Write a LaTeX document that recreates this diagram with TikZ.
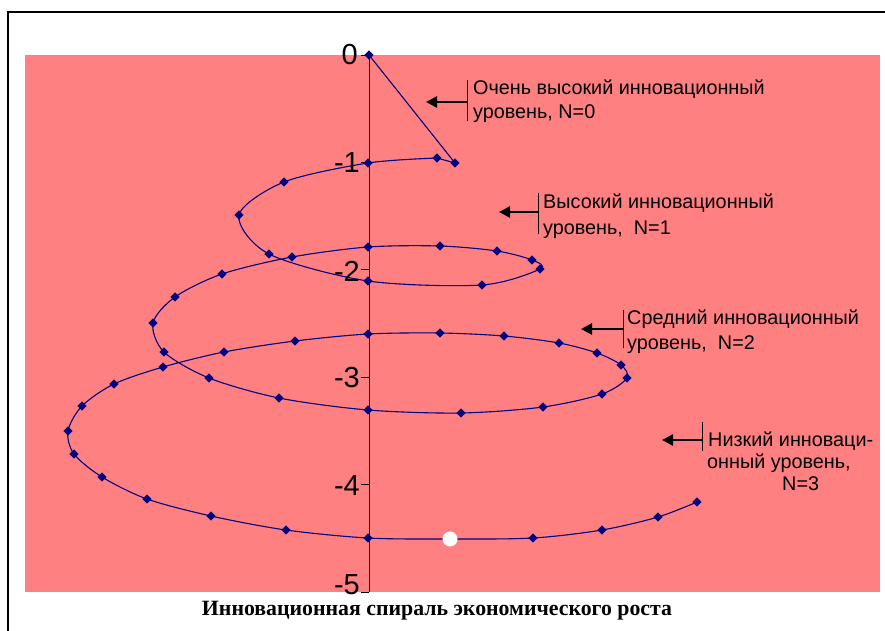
\documentclass[tikz,border=0pt]{standalone}
\usepackage{fontspec}
\setmainfont{Liberation Sans}
\newfontfamily\serifru{Liberation Serif}
\usetikzlibrary{arrows.meta,shapes.geometric}
\definecolor{plotpink}{RGB}{255,128,128}
\definecolor{navy}{RGB}{0,0,128}
\tikzset{
  marker/.style={diamond,fill=navy,inner sep=0pt,minimum width=9.5pt,minimum height=9.5pt},
  curve/.style={navy,line width=1.1pt},
  axislab/.style={anchor=east,inner sep=0pt,font=\fontsize{29}{29}\selectfont},
  lvl/.style={anchor=base west,inner sep=0pt,font=\fontsize{19.8}{19.8}\selectfont},
  bar/.style={black,line width=1pt},
  pointer/.style={black,line width=2.6pt,-{Triangle[length=11pt,width=11pt]}},
  tickline/.style={black,line width=1pt}
}
\begin{document}
\begin{tikzpicture}[x=1pt,y=-1pt]
\useasboundingbox (0,0) rectangle (885,630);
\clip (0,0) rectangle (885,630);
% outer frame
\draw[line width=1.3pt] (8,12) rectangle (900,650);
% plot area
\fill[plotpink] (25,55) rectangle (880,592);
% axis
\coordinate (axtop) at (369,55);
\coordinate (axbot) at (369,592);
\draw[tickline] (axtop) -- (axbot);
\foreach \v [count=\i from 0] in {0,1,2,3,4,5} {
  \coordinate (t\i) at (369,55+107.4*\i);
  \coordinate (tl\i) at (361,55+107.4*\i);
  \draw[tickline] (tl\i) -- (t\i);
}
\node[axislab] (y0) at (358,55) {0};
\node[axislab] (y1) at (360,163) {-1};
\node[axislab] (y2) at (360,271) {-2};
\node[axislab] (y3) at (360,378) {-3};
\node[axislab] (y4) at (360,486) {-4};
\node[axislab] (y5) at (360,585) {-5};
% spiral points
\foreach \x/\y [count=\i from 0] in {
369/55, 455/163, 437/158, 368/163, 284/182, 239/215, 269/254, 368/281,
482/285, 540/269, 532/260, 497/251, 440/246, 368/247, 292/257, 222/274,
175/297, 153/323, 164/352, 209/378, 279/398, 368/410, 461/413, 543/407,
602/394, 627/378, 621/365, 597/353, 559/343, 504/336, 440/333, 368/334,
295/341, 224/352, 163/367, 114/384, 82/406, 68/431, 74/454, 102/477,
147/499, 211/516, 286/530, 368/538, 450/539, 533/538, 602/530, 658/517,
697/502} {
  \coordinate (c\i) at (\x,\y);
}
\draw[curve] (c0) -- (c1) -- (c2);
\draw[curve] plot[smooth,tension=0.5] coordinates {
(c2) (c3) (c4) (c5) (c6) (c7) (c8) (c9) (c10) (c11) (c12) (c13) (c14)
(c15) (c16) (c17) (c18) (c19) (c20) (c21) (c22) (c23) (c24) (c25) (c26)
(c27) (c28) (c29) (c30) (c31) (c32) (c33) (c34) (c35) (c36) (c37) (c38)
(c39) (c40) (c41) (c42) (c43) (c44) (c45) (c46) (c47) (c48)};
\foreach \i in {0,...,43,45,46,47,48} {
  \node[marker] (m\i) at (c\i) {};
}
\fill[white] (c44) circle (7.5pt);
% level labels
\coordinate (b1t) at (467,80); \coordinate (b1b) at (467,121);
\coordinate (a1s) at (467,102); \coordinate (a1e) at (426,102);
\draw[bar] (b1t) -- (b1b);
\draw[pointer] (a1s) -- (a1e);
\node[lvl] (l1a) at (473,94) {Очень высокий инновационный};
\node[lvl] (l1b) at (473,118.5) {уровень, N=0};

\coordinate (b2t) at (538,193); \coordinate (b2b) at (538,234);
\coordinate (a2s) at (538,212); \coordinate (a2e) at (499,212);
\draw[bar] (b2t) -- (b2b);
\draw[pointer] (a2s) -- (a2e);
\node[lvl] (l2a) at (543,208) {Высокий инновационный};
\node[lvl] (l2b) at (543,234) {уровень,\ \ N=1};

\coordinate (b3t) at (623,310); \coordinate (b3b) at (623,348);
\coordinate (a3s) at (623,329); \coordinate (a3e) at (581,329);
\draw[bar] (b3t) -- (b3b);
\draw[pointer] (a3s) -- (a3e);
\node[lvl] (l3a) at (627,324) {Средний инновационный};
\node[lvl] (l3b) at (627,349) {уровень,\ \ N=2};

\coordinate (b4t) at (702,422); \coordinate (b4b) at (702,451);
\coordinate (a4s) at (702,440); \coordinate (a4e) at (662,440);
\draw[bar] (b4t) -- (b4b);
\draw[pointer] (a4s) -- (a4e);
\node[lvl] (l4a) at (708,446) {Низкий инноваци-};
\node[lvl] (l4b) at (707,468) {онный уровень,};
\node[lvl] (l4c) at (782,490) {N=3};
% title
\node[font=\serifru\bfseries\fontsize{21.8}{21.8}\selectfont,inner sep=0pt] (title) at (437,611) {Инновационная спираль экономического роста};
\end{tikzpicture}
\end{document}
